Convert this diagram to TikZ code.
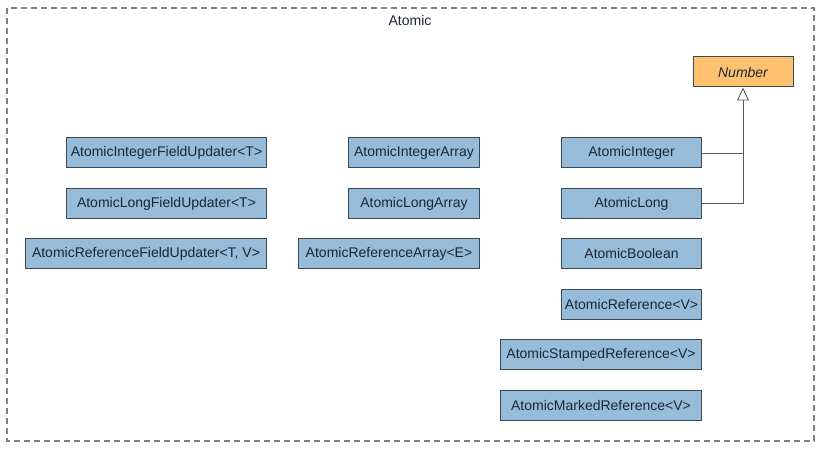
\documentclass[tikz,border=0pt]{standalone}
\usepackage{fontspec}
\setmainfont{Liberation Sans}
\usetikzlibrary{positioning,arrows.meta}
\definecolor{clsfill}{RGB}{150,188,218}
\definecolor{clsline}{RGB}{60,72,84}
\definecolor{clstext}{RGB}{28,38,52}
\definecolor{numfill}{RGB}{253,193,112}
\definecolor{linkgray}{RGB}{90,90,90}

\begin{document}
\begin{tikzpicture}[x=1pt,y=-1pt,node distance=19.4pt,
  class/.style={rectangle,draw=clsline,fill=clsfill,line width=1pt,text=clstext,
    font=\fontsize{14}{16}\selectfont,minimum height=30pt,inner sep=2pt},
  abstract/.style={class,fill=numfill,font=\fontsize{14}{16}\selectfont\itshape},
  inherit/.style={draw=linkgray,line width=0.9pt,-{Triangle[open,width=12pt,length=13pt]}}]
\useasboundingbox (0,0) rectangle (821,449);
% frame
  \draw[gray,line width=1.3pt,dash pattern=on 6pt off 4pt] (7,8) rectangle (814,441);
  \node[font=\fontsize{14}{16}\selectfont,text=clstext] (title) at (410,20) {Atomic};
% field updaters
  \node[class,minimum width=200pt,anchor=east] (aifu) at (267,153) {AtomicIntegerFieldUpdater<T>};
  \node[class,minimum width=200pt,below=of aifu.south east,anchor=north east] (alfu) {AtomicLongFieldUpdater<T>};
  \node[class,minimum width=241pt,below=of alfu.south east,anchor=north east] (arfu) {AtomicReferenceFieldUpdater<T, V>};
% arrays
  \node[class,minimum width=131pt,anchor=east] (aia) at (480,153) {AtomicIntegerArray};
  \node[class,minimum width=131pt,below=of aia.south east,anchor=north east] (ala) {AtomicLongArray};
  \node[class,minimum width=181pt,below=of ala.south east,anchor=north east] (ara) {AtomicReferenceArray<E>};
% single values
  \node[class,minimum width=140pt,anchor=east] (ai) at (702,153) {AtomicInteger};
  \node[class,minimum width=140pt,below=of ai.south east,anchor=north east] (al) {AtomicLong};
  \node[class,minimum width=140pt,below=of al.south east,anchor=north east] (ab) {AtomicBoolean};
  \node[class,minimum width=140pt,below=of ab.south east,anchor=north east] (ar) {AtomicReference<V>};
  \node[class,minimum width=201pt,below=of ar.south east,anchor=north east] (asr) {AtomicStampedReference<V>};
  \node[class,minimum width=201pt,below=of asr.south east,anchor=north east] (amr) {AtomicMarkedReference<V>};
  \node[abstract,minimum width=100pt] (num) at (743,72) {Number};
% edges
  \draw[draw=linkgray,line width=0.9pt] (ai.east) -- (ai.east -| num.south);
  \draw[inherit] (al.east) -| (num.south);
\end{tikzpicture}
\end{document}
